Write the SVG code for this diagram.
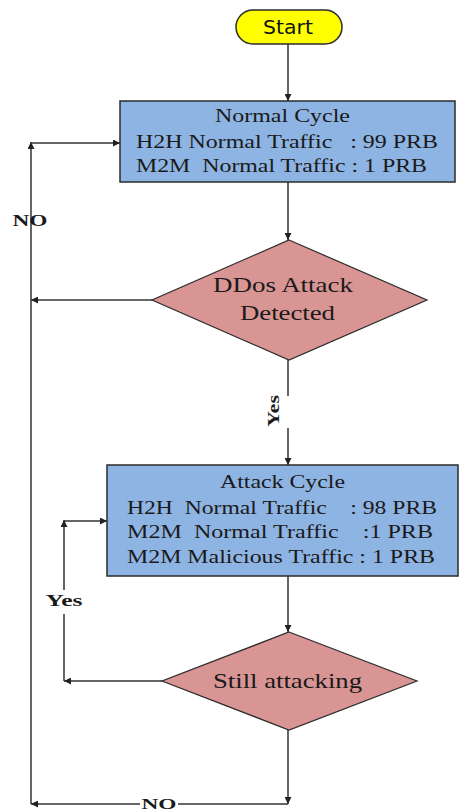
<svg xmlns="http://www.w3.org/2000/svg" width="465" height="812" viewBox="0 0 465 812">
  <style>
    .box { fill: #8EB4E3; stroke: #2b2b2b; stroke-width: 1.5; }
    .dec { fill: #D99594; stroke: #2b2b2b; stroke-width: 1.2; }
    .term { fill: #FFFF00; stroke: #2b2b2b; stroke-width: 1.5; }
    .wire { fill: none; stroke: #333; stroke-width: 1.5; }
    .serif { font-family: "Liberation Serif", "Times New Roman", serif; fill: #1a1a1a; }
    .lbl { font-family: "Liberation Serif", "Times New Roman", serif; font-weight: bold; fill: #1a1a1a; }
    .sans { font-family: "DejaVu Sans", "Liberation Sans", sans-serif; fill: #111; }
  </style>
  <defs>
    <marker id="arr" viewBox="0 0 10 10" refX="10" refY="5" markerWidth="7" markerHeight="7" markerUnits="userSpaceOnUse" orient="auto">
      <path d="M0,0 L10,5 L0,10 z" fill="#222"/>
    </marker>
  </defs>

  <rect width="465" height="812" fill="#ffffff"/>

  <!-- connectors -->
  <g id="connectors">
    <line class="wire" x1="288" y1="44" x2="288" y2="101" marker-end="url(#arr)"/>
    <line class="wire" x1="288" y1="182" x2="288" y2="240" marker-end="url(#arr)"/>
    <line class="wire" x1="152" y1="300" x2="31" y2="300" marker-end="url(#arr)"/>
    <line class="wire" x1="31" y1="804" x2="31" y2="142" marker-end="url(#arr)"/>
    <line class="wire" x1="31" y1="143" x2="120" y2="143" marker-end="url(#arr)"/>
    <line class="wire" x1="288" y1="360" x2="288" y2="396"/>
    <line class="wire" x1="288" y1="428" x2="288" y2="465" marker-end="url(#arr)"/>
    <line class="wire" x1="288" y1="576" x2="288" y2="632" marker-end="url(#arr)"/>
    <line class="wire" x1="162" y1="681" x2="64" y2="681" marker-end="url(#arr)"/>
    <line class="wire" x1="64" y1="681" x2="64" y2="614"/>
    <line class="wire" x1="64" y1="590" x2="64" y2="520" marker-end="url(#arr)"/>
    <line class="wire" x1="64" y1="521" x2="107" y2="521" marker-end="url(#arr)"/>
    <line class="wire" x1="288" y1="730" x2="288" y2="804" marker-end="url(#arr)"/>
    <line class="wire" x1="288" y1="804" x2="178" y2="804"/>
    <line class="wire" x1="140" y1="804" x2="31" y2="804" marker-end="url(#arr)"/>
    <text class="lbl" x="30" y="226" font-size="17" text-anchor="middle" textLength="35" lengthAdjust="spacingAndGlyphs">NO</text>
    <text class="lbl" x="64" y="606" font-size="17" text-anchor="middle" textLength="37" lengthAdjust="spacingAndGlyphs">Yes</text>
    <text class="lbl" x="159" y="809" font-size="15" text-anchor="middle" textLength="35" lengthAdjust="spacingAndGlyphs">NO</text>
    <text class="lbl" transform="translate(279,411) rotate(-90)" x="0" y="0" font-size="16" text-anchor="middle" textLength="32" lengthAdjust="spacingAndGlyphs">Yes</text>
  </g>

  <!-- start terminal -->
  <g id="start">
    <rect class="term" x="236" y="10" width="106" height="34" rx="17"/>
    <text class="sans" x="288" y="34" font-size="19" text-anchor="middle" textLength="50" lengthAdjust="spacingAndGlyphs">Start</text>
  </g>

  <!-- normal cycle process -->
  <g id="normal-cycle">
    <rect class="box" x="120" y="101" width="335" height="81"/>
    <text class="serif" x="282.5" y="122" font-size="19" text-anchor="middle" textLength="135" lengthAdjust="spacingAndGlyphs">Normal Cycle</text>
    <text class="serif" x="136" y="148" font-size="19" textLength="302" lengthAdjust="spacingAndGlyphs" xml:space="preserve">H2H Normal Traffic   : 99 PRB</text>
    <text class="serif" x="136" y="172" font-size="19" textLength="291" lengthAdjust="spacingAndGlyphs" xml:space="preserve">M2M  Normal Traffic : 1 PRB</text>
  </g>

  <!-- attack detection decision -->
  <g id="ddos-detected">
    <polygon class="dec" points="289,240 427,300 289,360 152,300"/>
    <text class="serif" x="283" y="292" font-size="21" text-anchor="middle" textLength="140" lengthAdjust="spacingAndGlyphs">DDos Attack</text>
    <text class="serif" x="287.5" y="320" font-size="21" text-anchor="middle" textLength="95" lengthAdjust="spacingAndGlyphs">Detected</text>
  </g>

  <!-- attack cycle process -->
  <g id="attack-cycle">
    <rect class="box" x="107" y="465" width="351" height="111"/>
    <text class="serif" x="282.5" y="488" font-size="19" text-anchor="middle" textLength="125" lengthAdjust="spacingAndGlyphs">Attack Cycle</text>
    <text class="serif" x="127" y="514" font-size="19" textLength="310" lengthAdjust="spacingAndGlyphs" xml:space="preserve">H2H  Normal Traffic    : 98 PRB</text>
    <text class="serif" x="127" y="538" font-size="19" textLength="306" lengthAdjust="spacingAndGlyphs" xml:space="preserve">M2M  Normal Traffic    :1 PRB</text>
    <text class="serif" x="127" y="563" font-size="19" textLength="308" lengthAdjust="spacingAndGlyphs" xml:space="preserve">M2M Malicious Traffic : 1 PRB</text>
  </g>

  <!-- still attacking decision -->
  <g id="still-attacking">
    <polygon class="dec" points="289,632 417,681 289,730 162,681"/>
    <text class="serif" x="287.5" y="688" font-size="21" text-anchor="middle" textLength="149" lengthAdjust="spacingAndGlyphs">Still attacking</text>
  </g>
</svg>
